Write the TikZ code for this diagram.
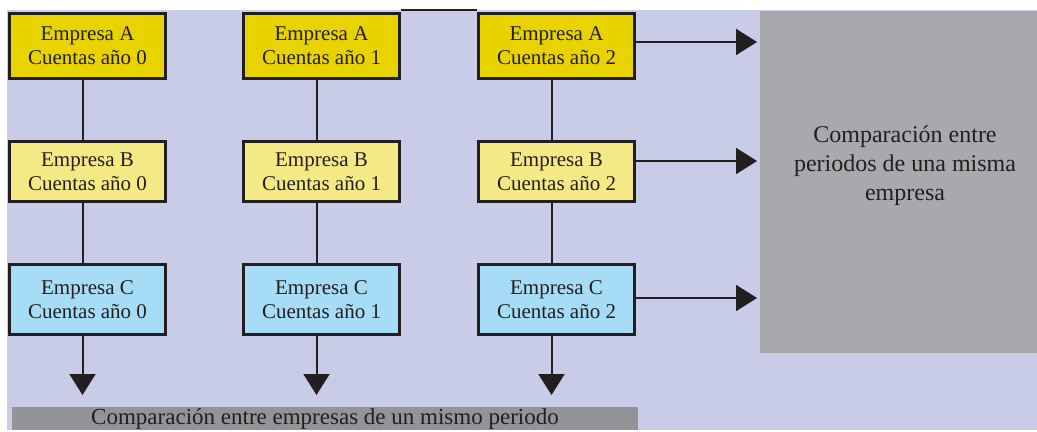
\documentclass[tikz,border=0pt]{standalone}
\usepackage{fontspec}
\setmainfont{Liberation Serif}
\usepackage{xcolor}
\usepackage{tikz}
\usetikzlibrary{arrows.meta}

\definecolor{lavanda}{HTML}{C8CCE6}
\definecolor{amarilloA}{HTML}{E8D200}
\definecolor{amarilloB}{HTML}{F4EA85}
\definecolor{celesteC}{HTML}{A6DCF5}
\definecolor{grisP}{HTML}{A8A9AD}
\definecolor{grisE}{HTML}{939498}
\definecolor{tinta}{HTML}{231F20}

\tikzset{
  cuenta/.style={draw=tinta, line width=1.5pt, minimum width=78pt, inner sep=0pt,
    align=center, text=tinta, font=\fontsize{10.5}{12}\selectfont},
  filaA/.style={cuenta, fill=amarilloA, minimum height=32.5pt},
  filaB/.style={cuenta, fill=amarilloB, minimum height=30pt},
  filaC/.style={cuenta, fill=celesteC, minimum height=35pt},
  enlace/.style={draw=tinta, line width=1pt},
  flecha/.style={enlace, -{Triangle[length=10.5pt,width=13pt]}},
}

\begin{document}
\begin{tikzpicture}[x=0.5pt, y=-0.5pt]
    \useasboundingbox (0,0) rectangle (1037,432);
    \fill[lavanda] (7,10) rectangle (1037,430);
    \fill[grisP] (760,11) rectangle (1037,353);
    \fill[grisE] (12,407) rectangle (638,430);

    % cuentas de cada empresa por periodo
    \foreach \c/\x in {0/87.5, 1/321.5, 2/556.5} {
      \node[filaA] (A\c) at (\x,46) {Empresa A\\Cuentas año \c};
      \node[filaB] (B\c) at (\x,171.5) {Empresa B\\Cuentas año \c};
      \node[filaC] (C\c) at (\x,299.5) {Empresa C\\Cuentas año \c};
      \coordinate (d\c) at (\x-5,395);
      \draw[enlace] ([xshift=-2.5pt]A\c.south) -- ([xshift=-2.5pt]B\c.north);
      \draw[enlace] ([xshift=-2.5pt]B\c.south) -- ([xshift=-2.5pt]C\c.north);
      \draw[flecha] ([xshift=-2.5pt]C\c.south) -- (d\c);
    }
    \draw[enlace] ([yshift=1pt]A1.north east) -- ([yshift=1pt]A2.north west);

    % hacia la comparacion entre periodos
    \coordinate (rA) at (757,42);
    \coordinate (rB) at (757,161);
    \coordinate (rC) at (757,298);
    \draw[flecha] (A2.east |- rA) -- (rA);
    \draw[flecha] (B2.east |- rB) -- (rB);
    \draw[flecha] (C2.east |- rC) -- (rC);

    \node[align=center, text=tinta, font=\fontsize{12}{14.5}\selectfont] (periodos) at (905,166)
      {Comparación entre\\periodos de una misma\\empresa};
    \node[text=tinta, font=\fontsize{11.5}{13}\selectfont] (empresas) at (325,418.5)
      {Comparación entre empresas de un mismo periodo};
\end{tikzpicture}
\end{document}
